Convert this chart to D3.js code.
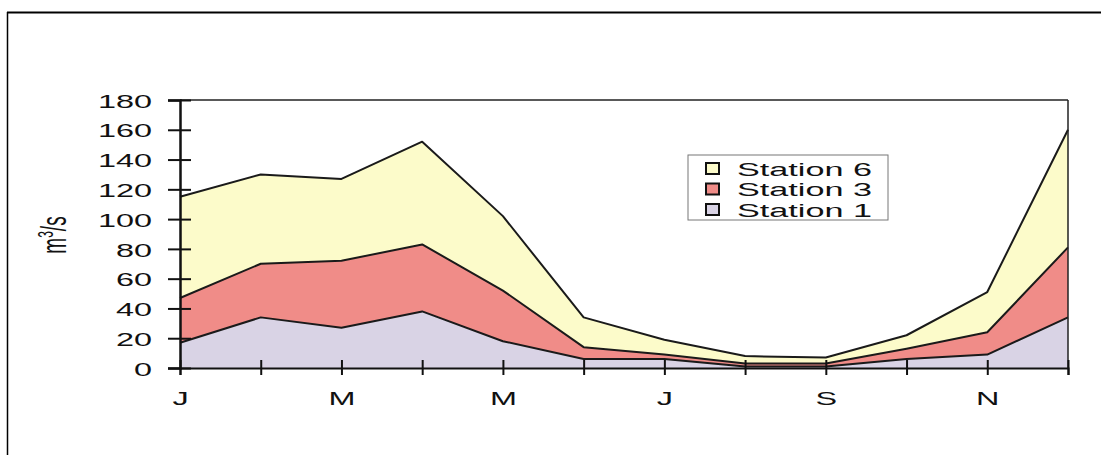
<!DOCTYPE html>
<html>
<head>
<meta charset="utf-8">
<script src="https://cdn.jsdelivr.net/npm/d3@7"></script>
<style>
  html, body { margin: 0; padding: 0; background: #fff; }
  svg { display: block; font-family: "Liberation Sans", Arial, sans-serif; }
</style>
</head>
<body>
<svg id="chart" width="1101" height="455"></svg>
<script>
// Monthly discharge (m³/s) per station, stacked
const months = ["Jan", "Feb", "Mar", "Apr", "May", "Jun", "Jul", "Aug", "Sep", "Oct", "Nov", "Dec"];
const monthLabels = ["J", "", "M", "", "M", "", "J", "", "S", "", "N", ""];
const station1 = [17, 34, 27, 38, 18, 6, 6, 1, 1, 6, 9, 34];
const station3 = [30, 36, 45, 45, 34, 8, 3, 2, 2, 7, 15, 47];
const station6 = [68, 60, 55, 69, 50, 20, 10, 5, 4, 9, 27, 79];
const seriesNames = ["Station 1", "Station 3", "Station 6"];
const yTicks = [0, 20, 40, 60, 80, 100, 120, 140, 160, 180];

const colors = { "Station 1": "#d9d3e5", "Station 3": "#f08c88", "Station 6": "#fcfbca" };

// text in this figure is drawn wide: stretch horizontally about its anchor
const WIDE = 1.8;
function widen(sel) {
  sel.each(function () {
    const t = d3.select(this);
    const x0 = +t.attr("x") || 0;
    t.attr("transform", `translate(${x0},0) scale(${WIDE},1) translate(${-x0},0)`);
  });
}

const svg = d3.select("#chart");

// outer frame (top and left edges)
svg.append("line").attr("x1", 7).attr("x2", 1101).attr("y1", 12.5).attr("y2", 12.5)
  .attr("stroke", "#000").attr("stroke-width", 2);
svg.append("line").attr("x1", 7.5).attr("x2", 7.5).attr("y1", 12).attr("y2", 455)
  .attr("stroke", "#000").attr("stroke-width", 1.5);

const margin = { left: 180, right: 1068, top: 100, bottom: 368 };

const x = d3.scalePoint().domain(months).range([margin.left, margin.right]);
const y = d3.scaleLinear().domain([0, 180]).range([margin.bottom, margin.top]);

const rows = months.map((m, i) => ({
  month: m,
  "Station 1": station1[i],
  "Station 3": station3[i],
  "Station 6": station6[i]
}));

const layers = d3.stack().keys(seriesNames)(rows);

const area = d3.area()
  .x(d => x(d.data.month))
  .y0(d => y(d[0]))
  .y1(d => y(d[1]));

const topLine = d3.line()
  .x(d => x(d.data.month))
  .y(d => y(d[1]));

const g = svg.append("g");

g.selectAll("path.area")
  .data(layers)
  .join("path")
  .attr("class", "area")
  .attr("fill", d => colors[d.key])
  .attr("d", area);

g.selectAll("path.edge")
  .data(layers)
  .join("path")
  .attr("class", "edge")
  .attr("fill", "none")
  .attr("stroke", "#1a1a1a")
  .attr("stroke-width", 2)
  .attr("stroke-linejoin", "round")
  .attr("d", topLine);

// plot frame: top and right edges
svg.append("line").attr("x1", margin.left).attr("x2", margin.right)
  .attr("y1", margin.top).attr("y2", margin.top)
  .attr("stroke", "#222").attr("stroke-width", 1.5);
svg.append("line").attr("x1", margin.right).attr("x2", margin.right)
  .attr("y1", margin.top).attr("y2", margin.bottom)
  .attr("stroke", "#222").attr("stroke-width", 1.5);

// y axis
const yAxis = d3.axisLeft(y).tickValues(yTicks).tickSize(12).tickPadding(16);
const yg = svg.append("g").attr("transform", `translate(${margin.left},0)`).call(yAxis);
yg.select(".domain").attr("stroke", "#111").attr("stroke-width", 2.5);
yg.selectAll(".tick line").attr("stroke", "#111").attr("stroke-width", 2).attr("x2", 11).attr("x1", -12);
yg.selectAll(".tick text").attr("font-size", 18).attr("fill", "#111").attr("dy", "0.4em")
  .attr("font-family", "Liberation Sans, Arial, sans-serif").call(widen);

// x axis
const xAxis = d3.axisBottom(x).tickFormat((d, i) => monthLabels[i]).tickSize(7).tickPadding(17);
const xg = svg.append("g").attr("transform", `translate(0,${margin.bottom})`).call(xAxis);
xg.select(".domain").attr("stroke", "#111").attr("stroke-width", 2);
xg.selectAll(".tick line").attr("stroke", "#111").attr("stroke-width", 2).attr("y1", -8);
xg.selectAll(".tick text").attr("font-size", 18).attr("fill", "#111")
  .attr("font-family", "Liberation Sans, Arial, sans-serif").call(widen);

// y axis title
const yt = svg.append("text")
  .attr("transform", `translate(66,235) scale(${WIDE},1) rotate(-90)`)
  .attr("text-anchor", "middle")
  .attr("font-size", 19)
  .attr("fill", "#111");
yt.append("tspan").text("m");
yt.append("tspan").attr("dy", -7).attr("font-size", 12).text("3");
yt.append("tspan").attr("dy", 7).text("/s");

// legend
const legend = svg.append("g").attr("transform", "translate(688,155)");
legend.append("rect").attr("width", 200).attr("height", 65)
  .attr("fill", "#fff").attr("stroke", "#777").attr("stroke-width", 1);
const legendOrder = ["Station 6", "Station 3", "Station 1"];
legendOrder.forEach((name, i) => {
  const row = legend.append("g").attr("transform", `translate(18,${8 + i * 20.5})`);
  row.append("rect").attr("width", 13).attr("height", 11)
    .attr("fill", colors[name]).attr("stroke", "#111").attr("stroke-width", 2);
  row.append("text").attr("x", 31).attr("y", 12.5).attr("font-size", 19)
    .attr("fill", "#111").text(name).call(widen);
});
</script>
</body>
</html>
